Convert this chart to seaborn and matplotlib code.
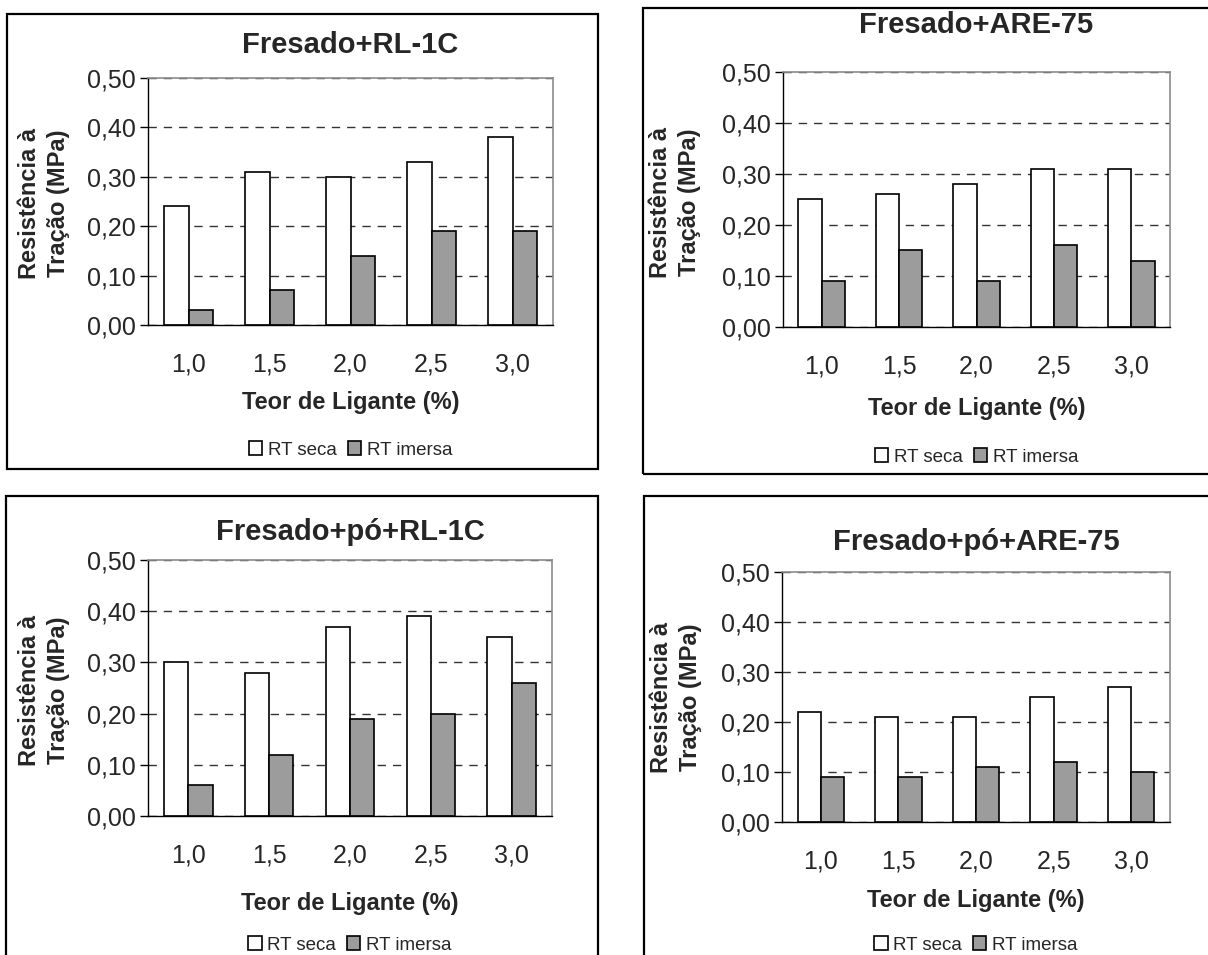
import pandas as pd
import seaborn as sns
import matplotlib.pyplot as plt
from matplotlib.patches import Rectangle

# data
teor = ["1,0", "1,5", "2,0", "2,5", "3,0"]
series = ["RT seca", "RT imersa"]

rl1c_seca = [0.24, 0.31, 0.30, 0.33, 0.38]
rl1c_imersa = [0.03, 0.07, 0.14, 0.19, 0.19]

are75_seca = [0.25, 0.26, 0.28, 0.31, 0.31]
are75_imersa = [0.09, 0.15, 0.09, 0.16, 0.13]

po_rl1c_seca = [0.30, 0.28, 0.37, 0.39, 0.35]
po_rl1c_imersa = [0.06, 0.12, 0.19, 0.20, 0.26]

po_are75_seca = [0.22, 0.21, 0.21, 0.25, 0.27]
po_are75_imersa = [0.09, 0.09, 0.11, 0.12, 0.10]

titles = ["Fresado+RL-1C", "Fresado+ARE-75", "Fresado+pó+RL-1C", "Fresado+pó+ARE-75"]
yticks = [0.0, 0.1, 0.2, 0.3, 0.4, 0.5]

sns.set_style("white")
plt.rcParams["font.family"] = ["Liberation Sans", "DejaVu Sans"]

W, H = 1208, 955
fig = plt.figure(figsize=(W / 100, H / 100), dpi=100)


def px(l, t, r, b):
    return [l / W, 1 - b / H, (r - l) / W, (b - t) / H]


# panel layout in pixels: axes box, title y, outer frame
panels = [
    dict(seca=rl1c_seca, imersa=rl1c_imersa, ax=(148, 78, 553, 325), ty=45,
         frame=(7, 14, 598, 469), ylab=(44, 203), xlab_y=402, leg_y=450),
    dict(seca=are75_seca, imersa=are75_imersa, ax=(783, 72, 1170, 327), ty=25,
         frame=(643, 8, 1215, 474), ylab=(675, 202), xlab_y=408, leg_y=457),
    dict(seca=po_rl1c_seca, imersa=po_rl1c_imersa, ax=(148, 560, 552, 816), ty=532,
         frame=(6, 496, 598, 970), ylab=(44, 690), xlab_y=903, leg_y=945),
    dict(seca=po_are75_seca, imersa=po_are75_imersa, ax=(782, 572, 1170, 822), ty=542,
         frame=(644, 496, 1215, 970), ylab=(676, 697), xlab_y=900, leg_y=945),
]

palette = {"RT seca": "white", "RT imersa": "#9c9c9c"}

for p, title in zip(panels, titles):
    df = pd.DataFrame({
        "Teor": teor * 2,
        "Valor": p["seca"] + p["imersa"],
        "Serie": [series[0]] * 5 + [series[1]] * 5,
    })
    l, t, r, b = p["ax"]
    ax = fig.add_axes(px(l, t, r, b))
    sns.barplot(data=df, x="Teor", y="Valor", hue="Serie", hue_order=series,
                palette=palette, edgecolor="black", linewidth=1.2, width=0.6,
                saturation=1, ax=ax)
    ax.set_xlim(-0.5, 4.5)
    ax.set_ylim(0, 0.5)
    ax.set_yticks(yticks)
    ax.set_yticklabels([f"{v:.2f}".replace(".", ",") for v in yticks], fontsize=18)
    ax.set_xticks(range(5))
    ax.set_xticklabels(teor, fontsize=18)
    ax.set_xticks([i - 0.5 for i in range(6)], minor=True)
    ax.tick_params(axis="x", which="major", length=0, pad=20)
    ax.tick_params(axis="x", which="minor", length=6, width=1, color="black", direction="out")
    ax.tick_params(axis="y", length=6, width=1, color="black", direction="out", pad=3, left=True)
    ax.set_axisbelow(True)
    ax.yaxis.grid(True, color="#333333", linestyle=(0, (6, 5)), linewidth=1)
    for s in ["top", "right"]:
        ax.spines[s].set_color("#8c8c8c")
        ax.spines[s].set_linewidth(1.2)
    for s in ["left", "bottom"]:
        ax.spines[s].set_color("black")
        ax.spines[s].set_linewidth(1)
    ax.set_xlabel("")
    ax.set_ylabel("")

    fig.text((l + r) / 2 / W, 1 - p["ty"] / H, title, ha="center", va="center",
             fontsize=21, fontweight="bold")
    fig.text(p["ylab"][0] / W, 1 - p["ylab"][1] / H, "Resistência à\nTração (MPa)",
             rotation=90, ha="center", va="center", fontsize=17, fontweight="bold",
             linespacing=1.35)
    fig.text((l + r) / 2 / W, 1 - p["xlab_y"] / H, "Teor de Ligante (%)",
             ha="center", va="center", fontsize=17, fontweight="bold")

    handles, labels = ax.get_legend_handles_labels()
    ax.legend(handles, labels, loc="center", ncol=2, frameon=False, fontsize=13.5,
              bbox_to_anchor=((l + r) / 2 / W, 1 - p["leg_y"] / H),
              bbox_transform=fig.transFigure, handlelength=0.7, handleheight=0.7,
              handletextpad=0.3, columnspacing=0.6)

    fl, ft, fr, fb = p["frame"]
    fig.patches.append(Rectangle((fl / W, 1 - fb / H), (fr - fl) / W, (fb - ft) / H,
                                 transform=fig.transFigure, fill=False,
                                 edgecolor="black", linewidth=1.6))

fig.savefig("out.png", dpi=100)
